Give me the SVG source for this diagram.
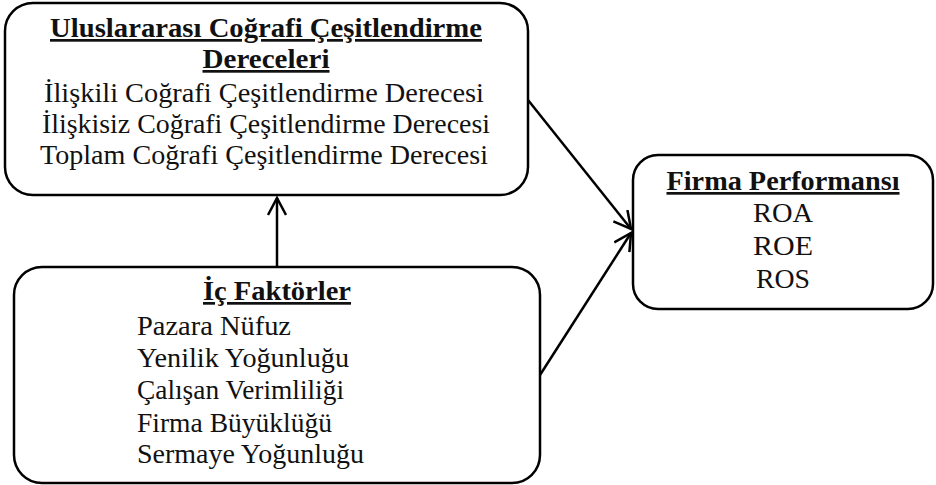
<svg xmlns="http://www.w3.org/2000/svg" width="936" height="485" viewBox="0 0 936 485">
<style>
.box{fill:#fff;stroke:#000;stroke-width:2.5}
.t{font-family:"Liberation Serif","Times New Roman",serif;font-size:27px;fill:#111}
.h{font-weight:bold;text-decoration:underline}
.c{text-anchor:middle}
.con{fill:none;stroke:#000;stroke-width:2.5}
</style>
<defs>
<marker id="arr" viewBox="0 0 20 20" refX="18" refY="10" markerWidth="20" markerHeight="20" markerUnits="userSpaceOnUse" orient="auto">
<path d="M1,1 L18,10 L1,19" fill="none" stroke="#000" stroke-width="2.5"/>
</marker>
</defs>
<rect width="936" height="485" fill="#fff"/>
<g id="node-ulus">
<rect class="box" x="5" y="3" width="523" height="192" rx="28"/>
<text class="t h c" x="266" y="37" textLength="432" lengthAdjust="spacingAndGlyphs">Uluslararası Coğrafi Çeşitlendirme</text>
<text class="t h c" x="266" y="68" textLength="127" lengthAdjust="spacingAndGlyphs">Dereceleri</text>
<text class="t c" x="264" y="102" textLength="440" lengthAdjust="spacingAndGlyphs">İlişkili Coğrafi Çeşitlendirme Derecesi</text>
<text class="t c" x="266" y="133" textLength="448" lengthAdjust="spacingAndGlyphs">İlişkisiz Coğrafi Çeşitlendirme Derecesi</text>
<text class="t c" x="264" y="164" textLength="448" lengthAdjust="spacingAndGlyphs">Toplam Coğrafi Çeşitlendirme Derecesi</text>
</g>
<g id="node-firma">
<rect class="box" x="633" y="155" width="300" height="154" rx="25"/>
<text class="t h c" x="783" y="190" textLength="233" lengthAdjust="spacingAndGlyphs">Firma Performansı</text>
<text class="t c" x="783" y="222" textLength="60" lengthAdjust="spacingAndGlyphs">ROA</text>
<text class="t c" x="783" y="255" textLength="60" lengthAdjust="spacingAndGlyphs">ROE</text>
<text class="t c" x="783" y="288" textLength="54" lengthAdjust="spacingAndGlyphs">ROS</text>
</g>
<g id="node-ic">
<rect class="box" x="14" y="267" width="526" height="216" rx="28"/>
<text class="t h c" x="277" y="300" textLength="148" lengthAdjust="spacingAndGlyphs">İç Faktörler</text>
<text class="t" x="137" y="335" textLength="154" lengthAdjust="spacingAndGlyphs">Pazara Nüfuz</text>
<text class="t" x="137" y="367" textLength="212" lengthAdjust="spacingAndGlyphs">Yenilik Yoğunluğu</text>
<text class="t" x="137" y="399" textLength="207" lengthAdjust="spacingAndGlyphs">Çalışan Verimliliği</text>
<text class="t" x="137" y="432" textLength="195" lengthAdjust="spacingAndGlyphs">Firma Büyüklüğü</text>
<text class="t" x="137" y="463" textLength="227" lengthAdjust="spacingAndGlyphs">Sermaye Yoğunluğu</text>
</g>
<g id="connectors">
<line class="con" x1="277" y1="267" x2="277" y2="198" marker-end="url(#arr)"/>
<line class="con" x1="528" y1="100" x2="631" y2="229" marker-end="url(#arr)"/>
<line class="con" x1="540" y1="375" x2="631" y2="233" marker-end="url(#arr)"/>
</g>
</svg>
